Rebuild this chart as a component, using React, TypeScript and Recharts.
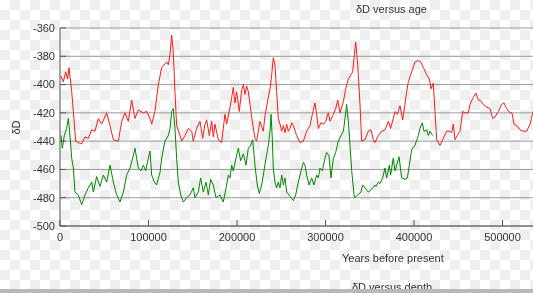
import { CartesianGrid, Line, LineChart, XAxis, YAxis } from 'recharts';

// red series: age (years) and δD
const redAge = [
  1100, 3800, 6400, 8600, 10200, 13200, 15100, 17700, 20700, 24500, 28200, 32000, 35800, 39500, 43300, 47100,
  52700, 56500, 60300, 65900, 69700, 73400, 77200, 81000, 84700, 88500, 94200, 97900, 101700, 103600, 107300,
  111100, 114900, 120500, 122400, 124300, 126200, 128000, 129900, 131800, 135600, 137500, 141200, 145000, 148800,
  150600, 154400, 158200, 161200, 163800, 165700, 168700, 171400, 173200, 175100, 178900, 182700, 184500, 186400,
  188300, 192100, 194000, 195800, 197700, 199600, 202600, 205300, 207200, 209000, 210900, 212800, 214700, 217700,
  220300, 222200, 226000, 229700, 231600, 235400, 237300, 239200, 241000, 242900, 244800, 246700, 248600, 250500,
  252400, 254200, 256100, 258000, 259900, 261800, 263700, 267400, 271200, 275000, 278700, 282500, 285100, 288100,
  290000, 291900, 294900, 297500, 300200, 303200, 305100, 308900, 311500, 313800, 316400, 320200, 322800, 325800,
  328800, 330700, 332600, 334100, 336400, 339000, 340900, 344600, 348400, 351400, 354000, 355900, 359700, 363500,
  367200, 371000, 373600, 376600, 378500, 381100, 384200, 387200, 389800, 391700, 393600, 397400, 401100, 404900,
  407600, 410600, 414300, 417300, 419200, 421800, 423700, 425600, 429400, 433100, 436900, 440700, 442600, 444400,
  446300, 449000, 452000, 455000, 457600, 461400, 463300, 467000, 470100, 472700, 474600, 478300, 482100, 485900,
  488900, 491500, 495300, 499100, 501700, 504700, 508500, 510700, 513000, 516000, 519800, 523500, 527300, 531100,
  534500, 540000,
];
const redD = [
  -394, -398, -391, -396, -388, -405, -419, -440, -441, -442, -437, -438, -432, -433, -424, -428,
  -420, -429, -439, -440, -426, -420, -426, -411, -424, -418, -420, -419, -424, -428, -419,
  -400, -388, -384, -386, -379, -365, -377, -405, -429, -436, -440, -436, -431, -433,
  -440, -431, -426, -438, -428, -425, -436, -426, -437, -428, -439, -441, -431, -421,
  -428, -416, -409, -402, -413, -405, -419, -404, -400, -407, -401, -405, -414, -428,
  -438, -440, -426, -433, -422, -409, -403, -393, -381, -386, -405, -424, -428, -433,
  -429, -434, -428, -433, -431, -427, -429, -436, -441, -440, -433, -429, -421, -413,
  -421, -431, -427, -428, -426, -420, -426, -421, -417, -411, -420, -412, -403, -396,
  -393, -391, -379, -370, -386, -414, -440, -439, -433, -432, -439, -441, -436, -433,
  -432, -426, -431, -424, -419, -421, -415, -425, -414, -405, -398, -391, -384, -383,
  -384, -388, -393, -396, -403, -399, -419, -439, -443, -438, -433, -433, -434, -428,
  -439, -436, -433, -419, -420, -420, -414, -409, -406, -411, -411, -414, -416, -417,
  -424, -423, -419, -414, -413, -417, -420, -420, -428, -429, -432, -433, -433, -428,
  -419, -412,
];

// green series: age (years) and δD
const greenAge = [
  1100, 2600, 4900, 7500, 9400, 11300, 13200, 15100, 16900, 20700, 24500, 28200, 32000, 35800, 37700, 41400,
  45200, 49000, 52700, 56500, 60300, 64000, 67800, 71600, 75300, 79100, 82900, 84700, 88500, 91500, 94200,
  96800, 99800, 101700, 103600, 106600, 109200, 113000, 114900, 118600, 122400, 124300, 126200, 128000, 129900,
  131800, 133700, 136400, 139300, 143100, 146900, 150600, 152500, 156300, 158900, 161900, 165000, 167600, 170200,
  173200, 176300, 180800, 184500, 188300, 190200, 192100, 194000, 195800, 198900, 201500, 204100, 207200, 210200,
  212800, 215400, 217700, 220300, 222900, 225200, 227900, 230500, 232800, 235400, 237300, 238500, 240000, 241000,
  242900, 244800, 246700, 248600, 250500, 252400, 254200, 256100, 259900, 263700, 266300, 269300, 272300, 275000,
  276800, 278700, 281400, 284400, 287000, 290000, 291900, 293800, 296400, 299400, 301300, 303900, 306200, 308900,
  311500, 314500, 317500, 320200, 322000, 323900, 325800, 327700, 329600, 332600, 336400, 340100, 342000, 344600,
  348400, 352200, 355900, 357000, 359700, 361600, 364600, 367200, 369100, 372100, 373600, 376600, 378500, 380400,
  383100, 386100, 389800, 392500, 394700, 397400, 401100, 404900, 406800, 409400, 411300, 414300, 416200, 418100,
  421100,
];
const greenD = [
  -436, -445, -436, -431, -424, -436, -452, -459, -476, -478, -485, -478, -473, -469, -476, -465,
  -472, -464, -469, -457, -469, -478, -483, -476, -464, -459, -450, -445, -459, -461, -457,
  -461, -452, -447, -464, -469, -471, -462, -452, -440, -436, -431, -419, -417, -431,
  -452, -469, -478, -483, -480, -478, -473, -480, -476, -466, -476, -469, -478, -467,
  -471, -480, -478, -483, -471, -464, -466, -457, -461, -452, -445, -454, -449, -457,
  -445, -443, -439, -457, -471, -477, -471, -461, -452, -443, -433, -421, -440, -459,
  -469, -473, -469, -473, -464, -471, -466, -476, -479, -482, -478, -469, -461, -455,
  -457, -464, -471, -466, -471, -464, -466, -459, -461, -452, -448, -450, -466, -452,
  -448, -440, -436, -433, -424, -414, -426, -443, -461, -480, -478, -476, -471, -473,
  -476, -474, -471, -472, -469, -470, -466, -459, -466, -457, -464, -452, -461, -457,
  -451, -466, -467, -466, -457, -446, -443, -436, -431, -427, -433, -432, -436, -433,
  -436,
];

const xTicks = [0, 100000, 200000, 300000, 400000, 500000];
const yTicks = [-500, -480, -460, -440, -420, -400, -380, -360];

const redData = redAge.map((age, i) => ({ age, d: redD[i] }));
const greenData = greenAge.map((age, i) => ({ age, d: greenD[i] }));

const font = '"Liberation Sans", Arial, sans-serif';
const tickStyle = { fill: '#333', fontSize: 11, fontFamily: font };

export default function App() {
  return (
    <div
      style={{
        position: 'fixed',
        left: 0,
        top: 0,
        width: 533,
        height: 293,
        overflow: 'hidden',
        background: 'repeating-conic-gradient(#efefef 0% 25%, #ffffff 0% 50%) 0 0 / 20px 20px',
        fontFamily: font,
        color: '#333',
        fontSize: 11,
      }}
    >
      <LineChart width={601} height={293} margin={{ top: 28, right: 10, left: 0, bottom: 37 }}>
        <CartesianGrid vertical={false} stroke="#9a9a9a" />
        <XAxis
          type="number"
          dataKey="age"
          domain={[0, 600000]}
          ticks={xTicks}
          height={30}
          stroke="#555"
          tickSize={-6}
          tickMargin={13}
          tick={tickStyle}
          allowDuplicatedCategory={false}
        />
        <XAxis
          xAxisId="top"
          orientation="top"
          type="number"
          dataKey="age"
          domain={[0, 600000]}
          ticks={xTicks}
          height={0}
          stroke="#555"
          tickSize={-6}
          tickFormatter={() => ''}
        />
        <YAxis
          type="number"
          domain={[-500, -360]}
          ticks={yTicks}
          width={60}
          stroke="#555"
          tickSize={-6}
          tickMargin={11}
          tick={tickStyle}
        />
        <Line
          data={redData}
          dataKey="d"
          type="linear"
          stroke="#ff1a1a"
          strokeWidth={1}
          dot={false}
          isAnimationActive={false}
        />
        <Line
          data={greenData}
          dataKey="d"
          type="linear"
          stroke="#008800"
          strokeWidth={1}
          dot={false}
          isAnimationActive={false}
        />
      </LineChart>
      <div style={{ position: 'absolute', left: 356, top: 3, lineHeight: '13px' }}>δD versus age</div>
      <div
        style={{
          position: 'absolute',
          left: 9,
          top: 121,
          lineHeight: '13px',
          transform: 'rotate(-90deg)',
        }}
      >
        δD
      </div>
      <div style={{ position: 'absolute', left: 342, top: 252, lineHeight: '13px' }}>Years before present</div>
      <div style={{ position: 'absolute', left: 352, top: 281, lineHeight: '13px' }}>δD versus depth</div>
      <div style={{ position: 'absolute', left: 0, top: 289, width: 533, height: 4, background: '#b9b9b9' }} />
    </div>
  );
}
